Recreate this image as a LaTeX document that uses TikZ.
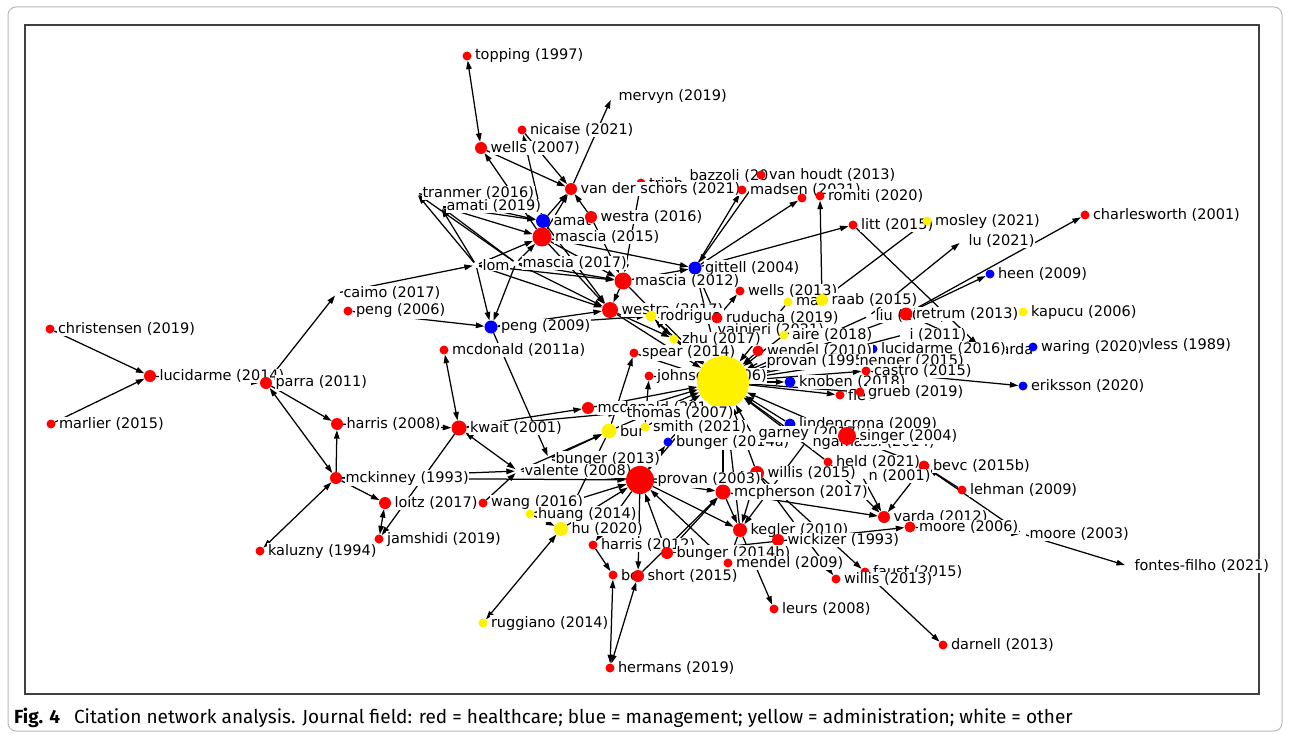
\documentclass[tikz,border=0pt]{standalone}
\usepackage{fontspec}
\setmainfont{DejaVu Sans}
\newfontfamily\capfont{Fira Sans}
\usetikzlibrary{arrows.meta}
\pgfdeclarelayer{bglayer}
\pgfdeclarelayer{edgelayer}
\pgfsetlayers{bglayer,edgelayer,main}
\newcommand\lblfont{\fontsize{14.5}{16}\selectfont}
\newcommand\mknode[4]{\node[#1,label={0:#4}] (#2) at (#3) {};}
\begin{document}
\begin{tikzpicture}[x=1pt,y=-1pt,
 dot/.style={circle,inner sep=0pt,draw=none},
 nR/.style={dot,fill=red}, nB/.style={dot,fill=blue}, nY/.style={dot,fill=yellow},
 nW/.style={dot,minimum size=6pt},
 ds/.style={minimum size=9pt}, dm/.style={minimum size=12pt}, dl/.style={minimum size=16pt},
 every label/.style={font=\lblfont, inner sep=0.6pt, fill=white, text=black},
 label distance=2.5pt,
 ar/.style={draw=black, line width=1.25pt, -{Triangle[length=8.5pt,width=5.5pt]}},
 ar2/.style={draw=black, line width=1.25pt, {Triangle[length=8.5pt,width=5.5pt]}-{Triangle[length=8.5pt,width=5.5pt]}}
]
\useasboundingbox (0,0) rectangle (1290,738);
\begin{pgfonlayer}{bglayer}
\fill[white] (0,0) rectangle (1290,738);
\draw[gray!55, line width=1pt, rounded corners=8pt] (8,7) rectangle (1282,731);
\draw[black!75, line width=1.3pt] (25,25) rectangle (1259,694);
\end{pgfonlayer}

% nodes
\mknode{nR,ds}{topping}{467,56}{topping (1997)}
\mknode{nW}{mervyn}{612,97}{mervyn (2019)}
\mknode{nR,ds}{nicaise}{522,130}{nicaise (2021)}
\mknode{nR,dm}{wells07}{481,148}{wells (2007)}
\mknode{nR,ds}{trinh}{641,183}{trinh}
\mknode{nW}{bazzoli}{683,176}{bazzoli (200}
\mknode{nR,ds}{vanhoudt}{761,175}{van houdt (2013)}
\mknode{nR,dm}{vds}{571,189}{van der schors (2021)}
\mknode{nR,ds}{madsen}{742,190}{madsen (2021)}
\node[nR,ds] (larosa) at (802,198) {};
\mknode{nR,ds}{romiti}{820,196}{romiti (2020)}
\mknode{nW}{tranmer}{416,193}{tranmer (2016)}
\mknode{nW}{amati19}{440,206}{amati (2019)}
\mknode{nB,minimum size=14pt}{amat}{543,221}{amat}
\mknode{nR,dm}{westra16}{591,217}{westra (2016)}
\mknode{nR,minimum size=19pt}{mascia15}{542,237}{mascia (2015)}
\mknode{nR,ds}{litt}{853,225}{litt (2015)}
\mknode{nY,ds}{mosley}{927,221}{mosley (2021)}
\mknode{nW}{lu21}{962,241}{lu (2021)}
\mknode{nR,ds}{charles}{1085,215}{charlesworth (2001)}
\mknode{nB,ds}{heen}{990,274}{heen (2009)}
\mknode{nW}{lom}{476,265}{lom}
\mknode{nW}{mascia17}{516,263}{mascia (2017)}
\mknode{nW}{caimo}{337,293}{caimo (2017)}
\mknode{nR,ds}{peng06}{348,311}{peng (2006)}
\mknode{nB,minimum size=13pt}{peng09}{491,327}{peng (2009)}
\mknode{nR,ds}{mcd11a}{444,350}{mcdonald (2011a)}
\mknode{nB,minimum size=13pt}{gittell}{695,268}{gittell (2004)}
\mknode{nR,minimum size=17pt}{mascia12}{623,281}{mascia (2012)}
\mknode{nR,dl}{westra17}{610,310}{westra (2017)}
\mknode{nR,ds}{wells13}{740,291}{wells (2013)}
\mknode{nY,ds}{ma}{788,302}{ma}
\mknode{nY,dm}{raab}{822,300}{raab (2015)}
\mknode{nY,minimum size=11pt}{rodrig}{651,316}{rodrigue}
\mknode{nW}{liu20}{869,316}{liu (2020)}
\mknode{nR,minimum size=13pt}{retrum}{906,314}{retrum (2013)}
\mknode{nY,ds}{kapucu}{1023,312}{kapucu (2006)}
\mknode{nR,minimum size=11pt}{ruducha}{717,318}{ruducha (2019)}
\mknode{nW}{vainieri}{711,330}{vainieri (2021)}
\mknode{nY,ds}{maguire}{784,335}{aire (2018)}
\mknode{nW}{i2011}{903,335}{i (2011)}
\mknode{nY,ds}{zhu17}{674,339}{zhu (2017)}
\mknode{nB,minimum size=13pt}{varda16}{982,349}{varda}
\mknode{nB,ds}{waring}{1033,347}{waring (2020)}
\mknode{nW}{vless}{1135,345}{vless (1989)}
\mknode{nB,ds}{lucid16}{873,349}{lucidarme (2016)}
\mknode{nR,minimum size=11pt}{wendel}{758,351}{wendel (2010)}
\mknode{nR,ds}{spear}{634,353}{spear (2014)}
\mknode{nW}{provan95}{760,362}{provan (1995)}
\mknode{nW}{nenger}{853,362}{nenger (2015)}
\mknode{nR,ds}{castro}{866,371}{castro (2015)}
\mknode{nR,ds}{johnson}{649,376}{johnson (2006)}
\node[nY,minimum size=52pt] (bigY) at (723,382) {};
\mknode{nB,minimum size=11pt}{knoben}{790,382}{knoben (2018)}
\mknode{nB,ds}{eriksson}{1023,386}{eriksson (2020)}
\mknode{nR,ds}{fleu}{840,395}{fleu}
\mknode{nR,ds}{grueb}{860,392}{grueb (2019)}
\mknode{nR,dm}{mcd201}{588,408}{mcdonald (201}
\mknode{nW}{thomas}{620,413}{thomas (2007)}
\mknode{nB,minimum size=11pt}{lindencrona}{790,424}{lindencrona (2009)}
\mknode{nR,minimum size=15pt}{kwait}{459,428}{kwait (2001)}
\mknode{nR,dm}{harris08}{337,424}{harris (2008)}
\mknode{nY,minimum size=15pt}{bur}{609,431}{bur}
\mknode{nY,ds}{smith21}{645,427}{smith (2021)}
\mknode{nB,ds}{bunger14a}{668,442}{bunger (2014a)}
\mknode{nW}{garney}{752,434}{garney (2017)}
\mknode{nW}{ngamassi}{806,442}{ngamassi (2014)}
\mknode{nR,minimum size=18pt}{singer}{847,436}{singer (2004)}
\mknode{nW}{bunger13}{549,459}{bunger (2013)}
\mknode{nR,ds}{held}{828,462}{held (2021)}
\mknode{nR,minimum size=11pt}{bevc}{924,466}{bevc (2015b)}
\mknode{nW}{valente}{518,471}{valente (2008)}
\mknode{nR,minimum size=14pt}{willis15}{757,473}{willis (2015)}
\mknode{nW}{n2001}{862,476}{n (2001)}
\mknode{nR,minimum size=28pt}{provan03}{640,480}{provan (2003)}
\mknode{nR,dm}{mckinney}{336,478}{mckinney (1993)}
\mknode{nR,ds}{lehman}{962,490}{lehman (2009)}
\mknode{nR,minimum size=15pt}{mcpherson}{723,492}{mcpherson (2017)}
\mknode{nR,dm}{loitz}{385,503}{loitz (2017)}
\mknode{nR,ds}{wang}{483,503}{wang (2016)}
\mknode{nY,ds}{huang}{530,514}{huang (2014)}
\mknode{nR,dm}{varda12}{884,517}{varda (2012)}
\mknode{nR,minimum size=11pt}{moore06}{910,527}{moore (2006)}
\mknode{nY,minimum size=14pt}{hu20}{561,529}{hu (2020)}
\mknode{nR,minimum size=14pt}{kegler}{740,530}{kegler (2010)}
\mknode{nW}{moore03}{1023,534}{moore (2003)}
\mknode{nR,ds}{jamshidi}{379,539}{jamshidi (2019)}
\mknode{nR,dm}{wickizer}{778,540}{wickizer (1993)}
\mknode{nR,ds}{harris12}{593,545}{harris (2012)}
\mknode{nR,ds}{kaluzny}{260,551}{kaluzny (1994)}
\mknode{nR,dm}{bunger14b}{667,553}{bunger (2014b)}
\mknode{nR,ds}{mendel}{728,563}{mendel (2009)}
\mknode{nW}{fontes}{1128,566}{fontes-filho (2021)}
\mknode{nR,ds}{faust}{865,572}{faust (2015)}
\mknode{nR,ds}{be}{613,575}{be}
\mknode{nR,dm}{short}{638,576}{short (2015)}
\mknode{nR,ds}{willis13}{836,579}{willis (2013)}
\mknode{nR,ds}{leurs}{774,609}{leurs (2008)}
\mknode{nY,ds}{ruggiano}{483,623}{ruggiano (2014)}
\mknode{nR,ds}{darnell}{943,645}{darnell (2013)}
\mknode{nR,ds}{hermans}{610,668}{hermans (2019)}
\mknode{nR,ds}{christ}{50,329}{christensen (2019)}
\mknode{nR,ds}{marlier}{51,424}{marlier (2015)}
\mknode{nR,dm}{lucid14}{150,376}{lucidarme (2014)}
\mknode{nR,dm}{parra}{266,383}{parra (2011)}

\begin{pgfonlayer}{edgelayer}
\foreach \a/\b in {christ/lucid14, marlier/lucid14, lucid14/parra, parra/caimo, parra/harris08,
 harris08/kwait, mckinney/harris08, mckinney/loitz, mckinney/valente, mckinney/provan03,
 kwait/jamshidi, kwait/mcd201, kwait/thomas, peng06/peng09, caimo/lom, lom/peng09,
 mascia17/peng09, peng09/westra17, peng09/bunger13, peng09/rodrig,
 mascia15/wells07, wells07/vds, nicaise/vds, amat/nicaise, vds/mervyn, amat/vds, mascia15/vds,
 westra16/vds, lom/tranmer, mascia17/tranmer, lom/amati19, mascia17/amati19, amati19/amat,
 amati19/mascia15, tranmer/amat, lom/mascia15, mascia17/mascia15, mascia15/mascia12,
 mascia15/westra17, amat/westra17, westra16/mascia12, trinh/mascia12, lom/westra17,
 mascia17/westra17, mascia17/mascia12, lom/mascia12, mascia12/westra17, mascia12/gittell,
 mascia15/gittell, gittell/madsen, gittell/larosa, gittell/litt, vanhoudt/gittell,
 raab/romiti, mosley/raab, liu20/lu21, litt/varda16, retrum/varda16, retrum/heen,
 retrum/charles, retrum/kapucu, castro/eriksson,
 wendel/bigY, provan95/bigY, zhu17/bigY, spear/bigY, westra17/bigY, ruducha/bigY,
 vainieri/bigY, rodrig/bigY, johnson/bigY, mcd201/bigY, thomas/bigY, bur/bigY, smith21/bigY,
 bunger14a/bigY, provan03/bigY, willis15/bigY, mcpherson/bigY, kegler/bigY, garney/bigY,
 lindencrona/bigY, singer/bigY, ngamassi/bigY, held/bigY, bigY/knoben, bigY/castro,
 bigY/fleu, bigY/grueb, bigY/nenger, ruducha/wells13, ruducha/gittell, westra17/zhu17,
 bur/spear, smith21/johnson, gittell/bigY, ma/bigY, liu20/bigY, i2011/bigY, maguire/bigY,
 lucid16/bigY, mascia12/bigY, retrum/bigY,
 provan03/valente, bunger13/provan03, wang/valente, huang/hu20, hu20/provan03,
 huang/provan03, bur/hu20, provan03/harris12, harris12/be, provan03/short, short/mcpherson,
 bunger14b/mcpherson, bunger14b/provan03, provan03/mcpherson, provan03/kegler,
 mcpherson/kegler, willis15/kegler, ngamassi/kegler, kegler/leurs, kegler/mendel,
 willis15/faust, willis15/willis13, faust/darnell, bunger14b/moore06, mcpherson/varda12,
 held/varda12, n2001/varda12, bevc/varda12, singer/bevc, lehman/bevc, bevc/moore03,
 moore06/moore03, moore03/fontes, bunger13/bur, valente/bur, provan03/bunger14a,
 provan03/willis15, mendel/provan03}
 {\draw[ar] (\a) -- (\b);}
\foreach \a/\b in {topping/wells07, mckinney/parra, mckinney/kaluzny, loitz/jamshidi,
 kwait/mcd11a, kwait/valente, zhu17/rodrig, hu20/ruggiano, be/hermans, short/hermans}
 {\draw[ar2] (\a) -- (\b);}
\end{pgfonlayer}

\node[anchor=base west, inner sep=0pt, font=\capfont\fontsize{19}{22}\selectfont] (cap) at (14,723)
 {\textbf{Fig. 4}\hspace{14pt}Citation network analysis. Journal field: red = healthcare; blue = management; yellow = administration; white = other};
\end{tikzpicture}
\end{document}
